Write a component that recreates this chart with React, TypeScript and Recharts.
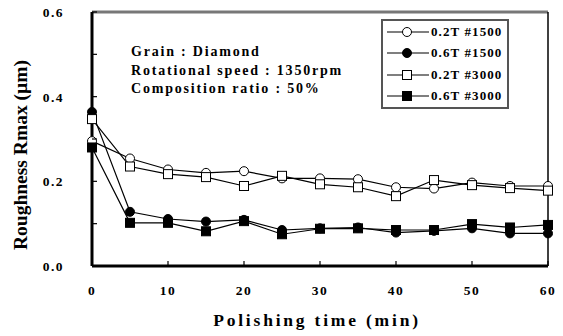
import React from "react";
import { Line, LineChart, ReferenceLine, XAxis, YAxis } from "recharts";

// polishing time (min)
const times = [0, 5, 10, 15, 20, 25, 30, 35, 40, 45, 50, 55, 60];
// Rmax (um)
const r02t1500 = [0.295, 0.254, 0.228, 0.22, 0.224, 0.207, 0.207, 0.205, 0.186, 0.183, 0.197, 0.189, 0.189];
const r06t1500 = [0.364, 0.128, 0.111, 0.105, 0.109, 0.085, 0.089, 0.091, 0.079, 0.083, 0.089, 0.077, 0.077];
const r02t3000 = [0.347, 0.235, 0.217, 0.21, 0.189, 0.213, 0.193, 0.186, 0.165, 0.203, 0.191, 0.184, 0.178];
const r06t3000 = [0.28, 0.102, 0.102, 0.082, 0.106, 0.075, 0.088, 0.089, 0.085, 0.085, 0.099, 0.091, 0.097];

const xTicks = [0, 10, 20, 30, 40, 50, 60];
const yTicks = [0, 0.1, 0.2, 0.3, 0.4, 0.5, 0.6];
const yLabelled = [0, 0.2, 0.4, 0.6];

const notes = ["Grain : Diamond", "Rotational speed : 1350rpm", "Composition ratio : 50%"];

type Series = { key: string; name: string; shape: "circle" | "square"; filled: boolean };
const series: Series[] = [
  { key: "a", name: "0.2T #1500", shape: "circle", filled: false },
  { key: "b", name: "0.6T #1500", shape: "circle", filled: true },
  { key: "c", name: "0.2T #3000", shape: "square", filled: false },
  { key: "d", name: "0.6T #3000", shape: "square", filled: true },
];

const data = times.map((t, i) => ({
  t,
  a: r02t1500[i],
  b: r06t1500[i],
  c: r02t3000[i],
  d: r06t3000[i],
}));

const FONT = "'Liberation Serif', 'Times New Roman', serif";

function Marker({ cx, cy, shape, filled }: { cx: number; cy: number; shape: string; filled: boolean }) {
  const fill = filled ? "#000" : "#fff";
  if (shape === "square") {
    return <rect x={cx - 4.5} y={cy - 4.5} width={9} height={9} fill={fill} stroke="#000" strokeWidth={1} />;
  }
  return <circle cx={cx} cy={cy} r={4.5} fill={fill} stroke="#000" strokeWidth={1} />;
}

function makeDot(s: Series) {
  return (props: any) => {
    const { cx, cy, index } = props;
    if (cx == null || cy == null) return <g key={index} />;
    return (
      <g key={index}>
        <Marker cx={cx} cy={cy} shape={s.shape} filled={s.filled} />
      </g>
    );
  };
}

function XTick(props: any) {
  const { x, y, payload } = props;
  return (
    <g>
      <line x1={x} y1={y} x2={x} y2={y - 5} stroke="#000" strokeWidth={1.2} />
      <text x={x} y={y + 29} textAnchor="middle" fontFamily={FONT} fontWeight="bold" fontSize={13.5} letterSpacing={1.5} fill="#000">
        {payload.value}
      </text>
    </g>
  );
}

function YTick(props: any) {
  const { x, y, payload } = props;
  const v = payload.value as number;
  const show = yLabelled.some((l) => Math.abs(l - v) < 1e-6);
  return (
    <g>
      <line x1={x} y1={y} x2={x + 5} y2={y} stroke="#000" strokeWidth={1.2} />
      {show && (
        <text x={x - 28} y={y + 5} textAnchor="end" fontFamily={FONT} fontWeight="bold" fontSize={13.5} letterSpacing={1.5} fill="#000">
          {v.toFixed(1)}
        </text>
      )}
    </g>
  );
}

function LegendBox() {
  return (
    <div
      style={{
        position: "absolute",
        left: 381,
        top: 19,
        width: 124,
        height: 86,
        border: "2px solid #555",
        background: "#fff",
        boxSizing: "content-box",
      }}
    >
      {series.map((s) => (
        <div key={s.key} style={{ display: "flex", alignItems: "center", height: 21.5 }}>
          <svg width={48} height={14} style={{ flex: "none" }}>
            <line x1={4} y1={7} x2={46} y2={7} stroke="#000" strokeWidth={1.2} />
            <Marker cx={24} cy={7} shape={s.shape} filled={s.filled} />
          </svg>
          <span style={{ fontFamily: FONT, fontWeight: "bold", fontSize: 13, letterSpacing: 1.1, lineHeight: "14px" }}>{s.name}</span>
        </div>
      ))}
    </div>
  );
}

export default function App() {
  return (
    <div style={{ position: "absolute", left: 0, top: 0, width: 563, height: 336, background: "#fff" }}>
      <LineChart width={563} height={336} data={data} margin={{ top: 12, right: 15, bottom: 0, left: 0 }}>
        <XAxis
          dataKey="t"
          type="number"
          domain={[0, 60]}
          ticks={xTicks}
          height={70}
          tickSize={0}
          tickMargin={0}
          tickLine={false}
          axisLine={{ stroke: "#000", strokeWidth: 3 }}
          tick={<XTick />}
          label={(p: any) => {
            const vb = p.viewBox;
            return (
              <text
                x={vb.x + vb.width / 2 - 3}
                y={vb.y + 60}
                textAnchor="middle"
                fontFamily={FONT}
                fontWeight="bold"
                fontSize={17.5}
                letterSpacing={2.8}
                fill="#000"
              >
                Polishing time (min)
              </text>
            );
          }}
        />
        <YAxis
          type="number"
          domain={[0, 0.6]}
          ticks={yTicks}
          width={92}
          tickSize={0}
          tickMargin={0}
          tickLine={false}
          axisLine={{ stroke: "#000", strokeWidth: 3 }}
          tick={<YTick />}
          label={(p: any) => {
            const vb = p.viewBox;
            const cx = vb.x + 20;
            const cy = vb.y + vb.height / 2 + 16;
            return (
              <text
                x={cx}
                y={cy}
                transform={`rotate(-90 ${cx} ${cy})`}
                textAnchor="middle"
                dominantBaseline="central"
                fontFamily={FONT}
                fontWeight="bold"
                fontSize={19.5}
                fill="#000"
              >
                Roughness Rmax (µm)
              </text>
            );
          }}
        />
        <ReferenceLine y={0.6} stroke="#777" strokeWidth={3} ifOverflow="visible" />
        <ReferenceLine x={60} stroke="#000" strokeWidth={1.5} ifOverflow="visible" />
        {series.map((s) => (
          <Line
            key={s.key}
            dataKey={s.key}
            name={s.name}
            stroke="#000"
            strokeWidth={1.2}
            dot={makeDot(s)}
            activeDot={false}
            isAnimationActive={false}
          />
        ))}
      </LineChart>
      <LegendBox />
      <div
        style={{
          position: "absolute",
          left: 131,
          top: 43,
          fontFamily: FONT,
          fontWeight: "bold",
          fontSize: 14,
          letterSpacing: 1.8,
          lineHeight: "18.5px",
          color: "#000",
        }}
      >
        {notes.map((n) => (
          <div key={n}>{n}</div>
        ))}
      </div>
    </div>
  );
}
